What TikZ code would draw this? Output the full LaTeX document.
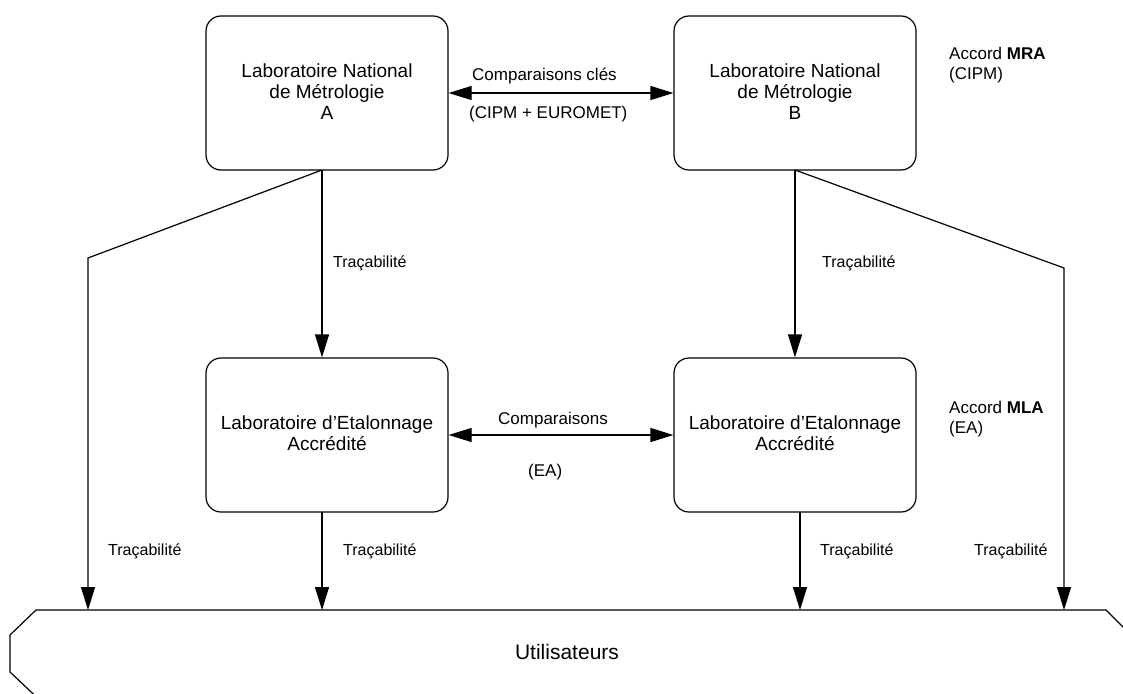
\documentclass[tikz,border=0pt]{standalone}
\usepackage{fontspec}
\setmainfont{Liberation Sans}
\usetikzlibrary{arrows.meta}
\begin{document}
\begin{tikzpicture}[x=1pt,y=-1pt,
  labbox/.style={draw,line width=1.2pt,rounded corners=15pt,minimum width=242pt,minimum height=154pt},
  boxtext/.style={align=center,inner sep=0pt,font=\fontsize{19}{21}\selectfont},
  tip/.tip={Triangle[length=23pt,width=14pt]},
  conn/.style={line width=1.2pt,-tip},
  twoway/.style={line width=1.2pt,tip-tip},
  plain/.style={line width=1.2pt},
  trlab/.style={font=\fontsize{16}{19}\selectfont,inner sep=0pt,anchor=west},
  cmplab/.style={font=\fontsize{17}{20}\selectfont,inner sep=0pt,anchor=west},
  acclab/.style={font=\fontsize{17}{20}\selectfont,inner sep=0pt,anchor=west,align=left},
]
\useasboundingbox (0,0) rectangle (1123,693);
\clip (0,0) rectangle (1123,693);

% boxes
\node[labbox] (A) at (327,93) {};
\node[labbox] (B) at (795,93) {};
\node[labbox] (C) at (327,435) {};
\node[labbox] (D) at (795,435) {};
\node[boxtext] (At) at (327,92) {Laboratoire National\\de Métrologie\\A};
\node[boxtext] (Bt) at (795,92) {Laboratoire National\\de Métrologie\\B};
\node[boxtext] (Ct) at (327,433) {Laboratoire d’Etalonnage\\Accrédité};
\node[boxtext] (Dt) at (795,433) {Laboratoire d’Etalonnage\\Accrédité};

% users shape
\draw[plain] (1136,640) -- (1106,610) -- (36,610) -- (10,635) -- (10,672) -- (46,706);
\node[font=\fontsize{21}{24}\selectfont,inner sep=0pt] (U) at (567,652) {Utilisateurs};
\coordinate (u1) at (88,610);
\coordinate (u2) at (322,610);
\coordinate (u3) at (800,610);
\coordinate (u4) at (1064,610);
\coordinate (bendL) at (88,258);
\coordinate (bendR) at (1064,268);
\coordinate (aS) at (322,170);
\coordinate (bS) at (795,170);
\coordinate (cS) at (322,512);
\coordinate (dS) at (800,512);

% comparisons
\draw[twoway] (A.east) -- (B.west);
\node[cmplab] (cmp1) at (472,76) {Comparaisons clés};
\node[cmplab] (cmp2) at (469,114) {(CIPM + EUROMET)};
\draw[twoway] (C.east) -- (D.west);
\node[cmplab] (cmp3) at (498,420) {Comparaisons};
\node[cmplab] (cmp4) at (528,472) {(EA)};

% traceability
\draw[conn] (aS) -- (aS |- C.north);
\draw[conn] (bS) -- (bS |- D.north);
\draw[conn] (aS) -- (bendL) -- (u1);
\draw[conn] (bS) -- (bendR) -- (u4);
\draw[conn] (cS) -- (u2);
\draw[conn] (dS) -- (u3);

\node[trlab] (t1) at (333,263) {Traçabilité};
\node[trlab] (t2) at (822,263) {Traçabilité};
\node[trlab] (t3) at (108,551) {Traçabilité};
\node[trlab] (t4) at (343,551) {Traçabilité};
\node[trlab] (t5) at (820,551) {Traçabilité};
\node[trlab] (t6) at (974,551) {Traçabilité};

% agreements
\node[acclab] (mra) at (949,65) {Accord \textbf{MRA}\\(CIPM)};
\node[acclab] (mla) at (949,419) {Accord \textbf{MLA}\\(EA)};
\end{tikzpicture}
\end{document}
